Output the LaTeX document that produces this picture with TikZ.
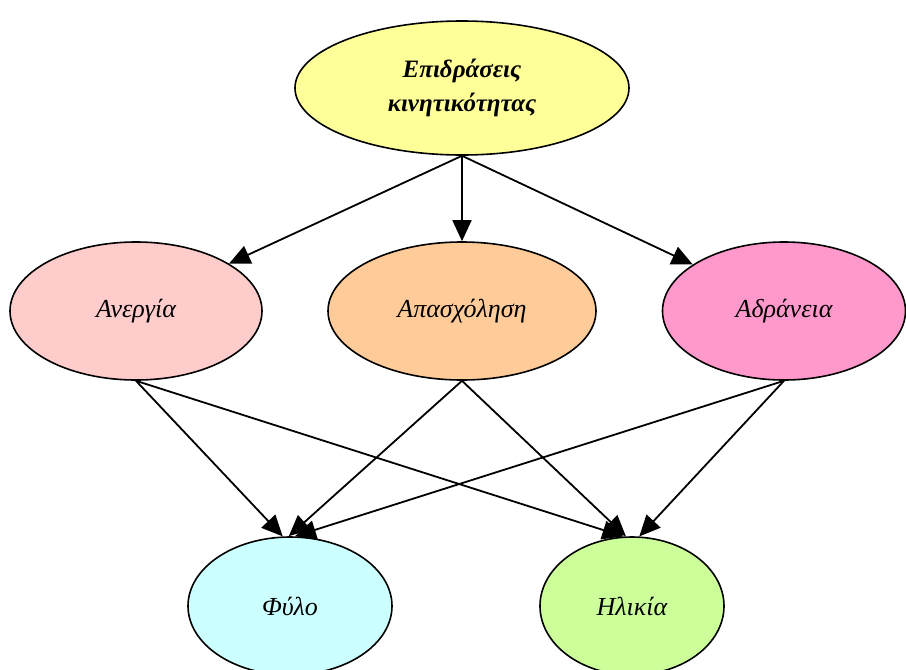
\documentclass[tikz,border=0pt]{standalone}
\usepackage{fontspec}
\setmainfont{Liberation Serif}
\usepackage{tikz}
\usetikzlibrary{arrows.meta, shapes.geometric}
\definecolor{kitrino}{HTML}{FFFF99}
\definecolor{roz}{HTML}{FFCCCC}
\definecolor{portok}{HTML}{FFCC99}
\definecolor{fouxia}{HTML}{FF99CC}
\definecolor{galazio}{HTML}{CCFFFF}
\definecolor{prasino}{HTML}{CCFF99}
\tikzset{
    state/.style={ellipse, draw=black, line width=1.6pt, inner sep=0pt, minimum height=138pt, font=\fontsize{26}{30}\selectfont\itshape},
    trans/.style={-{Triangle[length=21pt, width=19pt]}, line width=1.8pt, black}
}
\begin{document}
\begin{tikzpicture}[x=1pt, y=-1pt]
    \useasboundingbox (0,0) rectangle (906,670);

    % Πάνω επίπεδο
    \node[state, fill=kitrino, minimum width=334pt, minimum height=134pt, font=\fontsize{25}{34}\selectfont\bfseries\itshape, align=center] (kin) at (462,88) {Επιδράσεις\\κινητικότητας};

    % Μεσαίο επίπεδο
    \node[state, fill=roz, minimum width=252pt] (aner) at (136,311) {Ανεργία};
    \node[state, fill=portok, minimum width=268pt] (apas) at (462,311) {Απασχόληση};
    \node[state, fill=fouxia, minimum width=243pt] (adr) at (784,311) {Αδράνεια};

    % Κάτω επίπεδο
    \node[state, fill=galazio, minimum width=204pt] (fylo) at (290,606) {Φύλο};
    \node[state, fill=prasino, minimum width=184pt] (ilik) at (632,606) {Ηλικία};

    % Βέλη από πάνω
    \draw[trans] (kin.south) -- (aner.27);
    \draw[trans] (kin.south) -- (apas.north);
    \draw[trans] (kin.south) -- (adr.153);

    % Βέλη προς τα κάτω
    \draw[trans] (aner.south) -- (fylo.96);
    \draw[trans] (aner.south) -- (ilik.97);
    \draw[trans] (apas.south) -- (fylo.91);
    \draw[trans] (apas.south) -- (ilik.95);
    \draw[trans] (adr.south) -- (fylo.86);
    \draw[trans] (adr.south) -- (ilik.84);
\end{tikzpicture}
\end{document}
